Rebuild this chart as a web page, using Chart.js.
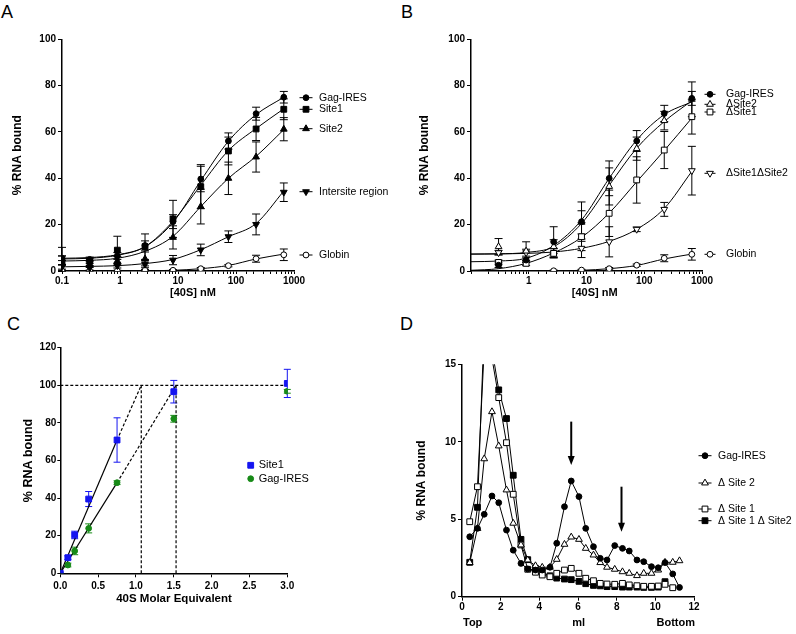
<!DOCTYPE html>
<html>
<head>
<meta charset="utf-8">
<script src="https://cdn.jsdelivr.net/npm/chart.js@4.4.1/dist/chart.umd.min.js"></script>
<style>
  body { margin: 0; width: 796px; height: 634px; position: relative; overflow: hidden; background: #fff;
         font-family: "Liberation Sans", Arial, sans-serif; }
  canvas { position: absolute; }
  .tag { position: absolute; font-size: 18px; line-height: 18px; color: #000; }
</style>
</head>
<body>
<div class="tag" style="left:1px;top:3px">A</div>
<div class="tag" style="left:401px;top:3px">B</div>
<div class="tag" style="left:7px;top:315px">C</div>
<div class="tag" style="left:400px;top:315px">D</div>
<canvas id="chartA" width="400" height="310" style="left:0;top:0"></canvas>
<canvas id="chartB" width="396" height="310" style="left:400px;top:0"></canvas>
<canvas id="chartC" width="400" height="324" style="left:0;top:310px"></canvas>
<canvas id="chartD" width="396" height="324" style="left:400px;top:310px"></canvas>
<script>
const FONT = '"Liberation Sans", Arial, sans-serif';

// ---------- A: binding curves, wild type and sites ----------
const concA = [0.1, 0.3, 0.9, 2.7, 8.2, 24.7, 74, 222, 667];
const gagA = [5.5, 5, 6.5, 11, 21.3, 39.7, 56.1, 67.9, 75];
const site1A = [4.5, 4.3, 9, 10.5, 22.5, 36.4, 51.8, 61.3, 69.8];
const site2A = [3.7, 3, 4.3, 5.2, 14.5, 27.8, 40, 49.2, 61.2];
const interA = [1.8, 1.3, 2.3, 2.9, 4.7, 9.1, 14.8, 20.1, 34];
const globinA = [0, 0, 0, 0.3, 0.3, 1, 2.3, 5.3, 7];
const gagAErr = [1, 1, 1.5, 2, 3, 5.5, 3.5, 2.8, 2.5];
const site1AErr = [2, 1, 6, 5.5, 8, 9.5, 6, 5, 4.5];
const site2AErr = [6.5, 1.5, 2, 3, 5, 7.5, 7, 6.5, 5];
const interAErr = [1, 1, 1, 1.5, 2, 2.5, 2.5, 4.5, 4];
const globinAErr = [0.3, 0.3, 0.3, 0.3, 0.3, 0.5, 0.5, 1.5, 2.5];
// fitted curves
const fitConc = [0.1, 0.3, 0.9, 2.7, 8.2, 24.7, 74, 222, 667];
const fitGagA = [5.5, 5.8, 7, 10.5, 21, 39, 56, 67.5, 75];
const fitSite1A = [5.2, 5.5, 6.8, 10.5, 21.5, 37, 52, 61.5, 70];
const fitSite2A = [4.3, 4.6, 5.5, 8.5, 15, 27.8, 40, 49.5, 61];
const fitInterA = [1.8, 2, 2.3, 3.2, 5, 9.2, 14.8, 20.5, 34.5];
const fitGlobinA = [0, 0, 0, 0.1, 0.3, 1, 2.4, 5.2, 7.3];

// ---------- B: binding curves, deletion mutants ----------
const concB = [0.3, 0.9, 2.7, 8.2, 24.7, 74, 222, 667];
const gagB = [2.5, 4.7, 12.6, 21.3, 40, 56.1, 68, 74.5];
const dSite2B = [10.5, 8.6, 10.5, 21, 36.5, 52.8, 64.9, 74.1];
const dSite1B = [3.7, 3.3, 7.6, 14.8, 24.9, 39.3, 52.2, 66.6];
const dBothB = [7.9, 7.9, 7.8, 9.8, 12.6, 18, 26.6, 43.3];
const globinB = [null, null, 0.1, 0.4, 1, 2.5, 5.5, 7.2];
const gagBErr = [1, 1, 6.5, 8.5, 7.5, 4.5, 3.5, 3];
const dSite2BErr = [3.5, 4, 3, 5, 8, 5, 4, 7.5];
const dSite1BErr = [1, 1, 2, 6, 10, 10, 8, 7.5];
const dBothBErr = [1, 1.5, 2, 4, 6.5, 1, 3, 10.5];
const globinBErr = [0, 0, 0.3, 0.3, 0.5, 0.5, 1.5, 2.5];
const fitGagB = [4, 4.3, 5.5, 11, 22, 40, 56.5, 67.5, 73];
const fitSite2B = [7.3, 7.4, 8, 10.5, 20.5, 37, 53, 64.5, 73.5];
const fitSite1B = [0.3, 1, 3.3, 7.8, 14.5, 25, 38.5, 52, 66];
const fitBothB = [7.3, 7.4, 7.6, 8.2, 9.8, 12.8, 18, 27, 43];
const fitGlobinB = [null, null, null, 0, 0.3, 1, 2.4, 5.2, 7.3];

// ---------- C: stoichiometry ----------
const molarEq = [0, 0.1, 0.19, 0.375, 0.75, 1.5, 3.0];
const site1C = [0, 8.3, 20.4, 39.5, 70.9, 96.6, 101];
const site1CErr = [0, 1, 2, 4, 11.8, 6, 7.5];
const gagC = [0, 4.4, 11.9, 23.9, 48.2, 82.2, 96.8];
const gagCErr = [0, 1, 2, 2.4, 1, 1.8, 1];
const site1Solid = [[0, 0], [0.75, 70.9]];
const site1Dash = [[0.75, 70.9], [1.07, 100]];
const gagSolid = [[0, 0], [0.75, 48.2]];
const gagDash = [[0.75, 48.2], [1.53, 100]];
const plateauLine = [[0, 100], [3, 100]];
const site1Drop = [[1.07, 0], [1.07, 100]];
const gagDrop = [[1.53, 0], [1.53, 100]];

// ---------- D: gradient profiles ----------
const fractionMl = [0.4, 0.8, 1.15, 1.55, 1.9, 2.3, 2.65, 3.05, 3.4, 3.8, 4.15, 4.55, 4.9, 5.3, 5.65,
                    6.05, 6.4, 6.8, 7.15, 7.5, 7.9, 8.3, 8.65, 9.05, 9.4, 9.8, 10.15, 10.5, 10.9, 11.25];
const gagD = [3.87, 4.41, 5.32, 6.5, 6.07, 4.3, 3.0, 2.15, 1.79, 1.72, 1.72, 1.9, 3.45, 5.81, 7.47,
              6.46, 4.41, 3.23, 2.48, 2.37, 3.3, 3.12, 2.95, 2.37, 2.26, 1.94, 1.87, 2.2, 1.47, 0.6];
const dSite2D = [2.2, 4.4, 8.9, 11.94, 9.73, 6.89, 4.74, 3.34, 2.37, 2.0, 1.9, 1.9, 2.41, 3.38, 3.85,
                 3.7, 3.12, 2.69, 2.2, 1.9, 1.77, 1.61, 1.51, 1.36, 1.51, 1.51, 1.72, 2.22, 2.22, 2.32];
const dSite1D = [4.84, 7.1, 16, 15.4, 12.85, 9.94, 6.61, 3.34, 1.77, 1.58, 1.4, 1.29, 1.51, 1.72, 1.83,
                 1.51, 1.19, 1.03, 0.86, 0.82, 0.8, 0.86, 0.76, 0.71, 0.67, 0.67, 0.69, 0.8, 0.58, null];
const dBothD = [2.22, 5.77, 17.5, 16, 13.35, 11.5, 7.84, 3.7, 2.39, 1.83, 1.55, 1.35, 1.2, 1.14, 1.1,
                0.99, 0.84, 0.73, 0.7, 0.65, 0.65, 0.62, 0.62, 0.62, 0.6, 0.6, 0.62, 0.97, null, null];
const arrowX = [5.65, 8.25];
const arrowTop = [11.3, 7.1];
const arrowTip = [8.5, 4.2];

// ---------- helpers ----------
function xy(xs, ys) { return xs.map((x, i) => ({ x: x, y: ys[i] })); }
function pairs(p) { return p.map(q => ({ x: q[0], y: q[1] })); }

const SHAPES = {
  circle: { pointStyle: 'circle', pointRadius: 2.9, pointRotation: 0 },
  rect: { pointStyle: 'rect', pointRadius: 4.1, pointRotation: 0 },
  tri: { pointStyle: 'triangle', pointRadius: 3.9, pointRotation: 0 },
  triDown: { pointStyle: 'triangle', pointRadius: 3.9, pointRotation: 180 }
};

function pointSet(xs, ys, errs, m, extra) {
  return Object.assign({
    data: xy(xs, ys), errors: errs, errorColor: m.color, showLine: false,
    pointBackgroundColor: m.filled ? m.color : '#fff', pointBorderColor: m.color, pointBorderWidth: 1
  }, SHAPES[m.shape], extra || {});
}
function curveSet(xs, ys) {
  return { data: xy(xs, ys), showLine: true, pointRadius: 0, borderColor: '#000', borderWidth: 1,
           cubicInterpolationMode: 'monotone' };
}
function segSet(p, dashed) {
  return { data: pairs(p), showLine: true, pointRadius: 0, borderColor: '#000', borderWidth: 1.2,
           borderDash: dashed ? [3, 2] : [] };
}

function drawMarker(ctx, m, x, y) {
  ctx.beginPath();
  if (m.shape === 'circle') ctx.arc(x, y, 2.9, 0, Math.PI * 2);
  else if (m.shape === 'rect') ctx.rect(x - 2.9, y - 2.9, 5.8, 5.8);
  else {
    const r = 3.9, s = m.shape === 'tri' ? 1 : -1;
    ctx.moveTo(x, y - s * r);
    ctx.lineTo(x + r * 0.866, y + s * r / 2);
    ctx.lineTo(x - r * 0.866, y + s * r / 2);
    ctx.closePath();
  }
  ctx.fillStyle = m.filled ? m.color : '#fff';
  ctx.fill();
  ctx.lineWidth = 1;
  ctx.strokeStyle = m.color;
  ctx.stroke();
}

const errorBars = {
  id: 'errorBars',
  beforeDatasetsDraw(chart) {
    const ctx = chart.ctx;
    chart.data.datasets.forEach((ds, di) => {
      if (!ds.errors) return;
      const meta = chart.getDatasetMeta(di);
      const ys = chart.scales[meta.yAxisID];
      const w = ds.capWidth || 4;
      ctx.save();
      ctx.strokeStyle = ds.errorColor || '#000';
      ctx.lineWidth = 1;
      meta.data.forEach((pt, i) => {
        const d = ds.data[i], e = ds.errors[i];
        if (!d || d.y == null || !e) return;
        const top = ys.getPixelForValue(d.y + e);
        const bot = ys.getPixelForValue(Math.max(d.y - e, ys.min));
        ctx.beginPath();
        ctx.moveTo(pt.x, top); ctx.lineTo(pt.x, bot);
        ctx.moveTo(pt.x - w, top); ctx.lineTo(pt.x + w, top);
        ctx.moveTo(pt.x - w, bot); ctx.lineTo(pt.x + w, bot);
        ctx.stroke();
      });
      ctx.restore();
    });
  }
};

const sideLegend = {
  id: 'sideLegend',
  afterDraw(chart, args, opts) {
    if (!opts.items) return;
    const ctx = chart.ctx;
    ctx.save();
    opts.items.forEach(it => {
      if (opts.line) {
        ctx.beginPath();
        ctx.moveTo(opts.x - opts.line, it.y); ctx.lineTo(opts.x + opts.line, it.y);
        ctx.strokeStyle = '#000'; ctx.lineWidth = 1; ctx.stroke();
      }
      drawMarker(ctx, it.marker, opts.x, it.y);
      ctx.fillStyle = '#000';
      ctx.font = opts.font;
      ctx.textBaseline = 'middle';
      ctx.textAlign = 'left';
      ctx.fillText(it.label, opts.textX, it.y);
    });
    ctx.restore();
  }
};

const extraText = {
  id: 'extraText',
  afterDraw(chart, args, opts) {
    if (!opts.items) return;
    const ctx = chart.ctx;
    ctx.save();
    ctx.fillStyle = '#000';
    ctx.textBaseline = 'middle';
    opts.items.forEach(t => {
      ctx.font = t.font;
      ctx.textAlign = t.align || 'center';
      ctx.fillText(t.text, t.x, t.y);
    });
    ctx.restore();
  }
};

const arrows = {
  id: 'arrows',
  afterDatasetsDraw(chart, args, opts) {
    if (!opts.x) return;
    const ctx = chart.ctx, xs = chart.scales.x, ys = chart.scales.y;
    ctx.save();
    ctx.strokeStyle = '#000'; ctx.fillStyle = '#000';
    opts.x.forEach((v, i) => {
      const px = xs.getPixelForValue(v);
      const top = ys.getPixelForValue(opts.top[i]);
      const tip = ys.getPixelForValue(opts.tip[i]);
      ctx.lineWidth = 2;
      ctx.beginPath(); ctx.moveTo(px, top); ctx.lineTo(px, tip - 6); ctx.stroke();
      ctx.beginPath(); ctx.moveTo(px - 3.5, tip - 9); ctx.lineTo(px + 3.5, tip - 9); ctx.lineTo(px, tip);
      ctx.closePath(); ctx.fill();
    });
    ctx.restore();
  }
};

const tickFont = { family: FONT, size: 10, weight: 'bold' };
const borderStyle = { display: true, color: '#000', width: 1.5 };

function yAxis(min, max, step, width, titlePad, titleSize, tickLen, tickPad) {
  return {
    min: min, max: max,
    ticks: { stepSize: step, padding: tickPad, color: '#000', font: tickFont },
    grid: { drawOnChartArea: false, drawTicks: true, tickLength: tickLen, color: '#000' },
    border: borderStyle,
    title: { display: true, text: '% RNA bound', color: '#000',
             font: { family: FONT, size: titleSize, weight: 'bold' }, padding: { top: titlePad, bottom: 0 } },
    afterFit(s) { s.width = width; }
  };
}
function logAxis(height, hideFirst) {
  return {
    type: 'logarithmic', min: 0.1, max: 1000,
    ticks: {
      autoSkip: false, maxRotation: 0, minRotation: 0, padding: 1, color: '#000', font: tickFont,
      callback(v) {
        const l = Math.log10(v);
        if (Math.abs(l - Math.round(l)) > 1e-6) return '';
        if (hideFirst && v < 0.5) return '';
        return String(Number(v.toPrecision(3)));
      }
    },
    grid: { drawOnChartArea: false, drawTicks: true, tickLength: 3, color: '#000' },
    border: borderStyle,
    afterFit(s) { s.height = height; }
  };
}
function options(padding, scales, plugins) {
  return {
    responsive: false, animation: false, events: [],
    layout: { padding: padding },
    scales: scales,
    plugins: Object.assign({ legend: { display: false }, tooltip: { enabled: false } }, plugins)
  };
}
const legendFont = '10.5px ' + FONT;
const titleFont = 'bold 11px ' + FONT;
const BLACK = '#000';

// ---------- A ----------
const mGag = { shape: 'circle', filled: true, color: BLACK };
new Chart(document.getElementById('chartA'), {
  type: 'scatter',
  data: { datasets: [
    pointSet(concA, gagA, gagAErr, mGag),
    pointSet(concA, site1A, site1AErr, { shape: 'rect', filled: true, color: BLACK }),
    pointSet(concA, site2A, site2AErr, { shape: 'tri', filled: true, color: BLACK }),
    pointSet(concA, interA, interAErr, { shape: 'triDown', filled: true, color: BLACK }),
    pointSet(concA, globinA, globinAErr, { shape: 'circle', filled: false, color: BLACK }),
    curveSet(fitConc, fitGagA), curveSet(fitConc, fitSite1A), curveSet(fitConc, fitSite2A),
    curveSet(fitConc, fitInterA), curveSet(fitConc, fitGlobinA)
  ] },
  options: options({ left: 0, top: 39.3, right: 106, bottom: 9 },
    { x: logAxis(30, false), y: yAxis(0, 100, 20, 62, 10, 12, 4, 2) },
    {
      sideLegend: { x: 306, line: 6.5, textX: 319, font: legendFont, items: [
        { label: 'Gag-IRES', y: 97.7, marker: mGag },
        { label: 'Site1', y: 109.3, marker: { shape: 'rect', filled: true, color: BLACK } },
        { label: 'Site2', y: 128.7, marker: { shape: 'tri', filled: true, color: BLACK } },
        { label: 'Intersite region', y: 191.7, marker: { shape: 'triDown', filled: true, color: BLACK } },
        { label: 'Globin', y: 255, marker: { shape: 'circle', filled: false, color: BLACK } }
      ] },
      extraText: { items: [{ text: '[40S] nM', x: 193, y: 293.3, font: titleFont }] }
    }),
  plugins: [errorBars, sideLegend, extraText]
});

// ---------- B ----------
new Chart(document.getElementById('chartB'), {
  type: 'scatter',
  data: { datasets: [
    pointSet(concB, gagB, gagBErr, mGag),
    pointSet(concB, dSite2B, dSite2BErr, { shape: 'tri', filled: false, color: BLACK }),
    pointSet(concB, dSite1B, dSite1BErr, { shape: 'rect', filled: false, color: BLACK }),
    pointSet(concB, dBothB, dBothBErr, { shape: 'triDown', filled: false, color: BLACK }),
    pointSet(concB, globinB, globinBErr, { shape: 'circle', filled: false, color: BLACK }),
    curveSet(fitConc, fitGagB), curveSet(fitConc, fitSite2B), curveSet(fitConc, fitSite1B),
    curveSet(fitConc, fitBothB), curveSet(fitConc, fitGlobinB)
  ] },
  options: options({ left: 0, top: 39.3, right: 94, bottom: 9 },
    { x: logAxis(30, true), y: yAxis(0, 100, 20, 71, 17.8, 12, 4, 2) },
    {
      sideLegend: { x: 310, line: 5.5, textX: 326, font: legendFont, items: [
        { label: 'Gag-IRES', y: 94.3, marker: mGag },
        { label: '\u0394Site2', y: 104.3, marker: { shape: 'tri', filled: false, color: BLACK } },
        { label: '\u0394Site1', y: 112, marker: { shape: 'rect', filled: false, color: BLACK } },
        { label: '\u0394Site1\u0394Site2', y: 173.3, marker: { shape: 'triDown', filled: false, color: BLACK } },
        { label: 'Globin', y: 254.3, marker: { shape: 'circle', filled: false, color: BLACK } }
      ] },
      extraText: { items: [{ text: '[40S] nM', x: 194.7, y: 293.3, font: titleFont }] }
    }),
  plugins: [errorBars, sideLegend, extraText]
});

// ---------- C ----------
const BLUE = '#1414f0', GREEN = '#178a17';
new Chart(document.getElementById('chartC'), {
  type: 'scatter',
  data: { datasets: [
    pointSet(molarEq, site1C, site1CErr, { shape: 'rect', filled: true, color: BLUE }, { capWidth: 3.5 }),
    pointSet(molarEq, gagC, gagCErr, { shape: 'circle', filled: true, color: GREEN }, { capWidth: 3.5 }),
    segSet(site1Solid, false), segSet(site1Dash, true),
    segSet(gagSolid, false), segSet(gagDash, true),
    segSet(plateauLine, true), segSet(site1Drop, true), segSet(gagDrop, true)
  ] },
  options: options({ left: 0, top: 37.7, right: 112.7, bottom: 26.7 },
    {
      x: {
        type: 'linear', min: 0, max: 3,
        ticks: { stepSize: 0.5, padding: 3, color: '#000', font: tickFont, maxRotation: 0,
                 callback: v => v.toFixed(1) },
        grid: { drawOnChartArea: false, tickLength: 4, color: '#000' },
        border: borderStyle,
        afterFit(s) { s.height = 34; }
      },
      y: yAxis(0, 120, 20, 60.3, 21.5, 12.5, 3, 1)
    },
    {
      sideLegend: { x: 250.7, line: 0, textX: 258.7, font: '11px ' + FONT, items: [
        { label: 'Site1', y: 155.3, marker: { shape: 'rect', filled: true, color: BLUE } },
        { label: 'Gag-IRES', y: 168.7, marker: { shape: 'circle', filled: true, color: GREEN } }
      ] },
      extraText: { items: [{ text: '40S Molar Equivalent', x: 174, y: 289, font: 'bold 11.5px ' + FONT }] }
    }),
  plugins: [errorBars, sideLegend, extraText]
});

// ---------- D ----------
function profileSet(ys, m) {
  return Object.assign(pointSet(fractionMl, ys, null, m), {
    showLine: true, borderColor: '#000', borderWidth: 1, clip: { left: 8, right: 8, bottom: 8, top: 0 }
  });
}
new Chart(document.getElementById('chartD'), {
  type: 'scatter',
  data: { datasets: [
    profileSet(gagD, mGag),
    profileSet(dSite2D, { shape: 'tri', filled: false, color: BLACK }),
    profileSet(dSite1D, { shape: 'rect', filled: false, color: BLACK }),
    profileSet(dBothD, { shape: 'rect', filled: true, color: BLACK })
  ] },
  options: options({ left: 0, top: 54.3, right: 102, bottom: 3.3 },
    {
      x: {
        type: 'linear', min: 0, max: 12,
        ticks: { stepSize: 2, padding: 1, color: '#000', font: tickFont, maxRotation: 0 },
        grid: { drawOnChartArea: false, tickLength: 4, color: '#000' },
        border: borderStyle,
        afterFit(s) { s.height = 34; }
      },
      y: yAxis(0, 15, 5, 62, 14.5, 12, 4, 2)
    },
    {
      arrows: { x: arrowX, top: arrowTop, tip: arrowTip },
      sideLegend: { x: 305, line: 6.5, textX: 318, font: legendFont, items: [
        { label: 'Gag-IRES', y: 145.7, marker: mGag },
        { label: '\u0394 Site 2', y: 173, marker: { shape: 'tri', filled: false, color: BLACK } },
        { label: '\u0394 Site 1', y: 199, marker: { shape: 'rect', filled: false, color: BLACK } },
        { label: '\u0394 Site 1 \u0394 Site2', y: 210.7, marker: { shape: 'rect', filled: true, color: BLACK } }
      ] },
      extraText: { items: [
        { text: 'Top', x: 63, y: 313.3, font: titleFont, align: 'left' },
        { text: 'ml', x: 178.7, y: 313.3, font: titleFont },
        { text: 'Bottom', x: 295, y: 313.3, font: titleFont, align: 'right' }
      ] }
    }),
  plugins: [errorBars, arrows, sideLegend, extraText]
});
</script>
</body>
</html>
